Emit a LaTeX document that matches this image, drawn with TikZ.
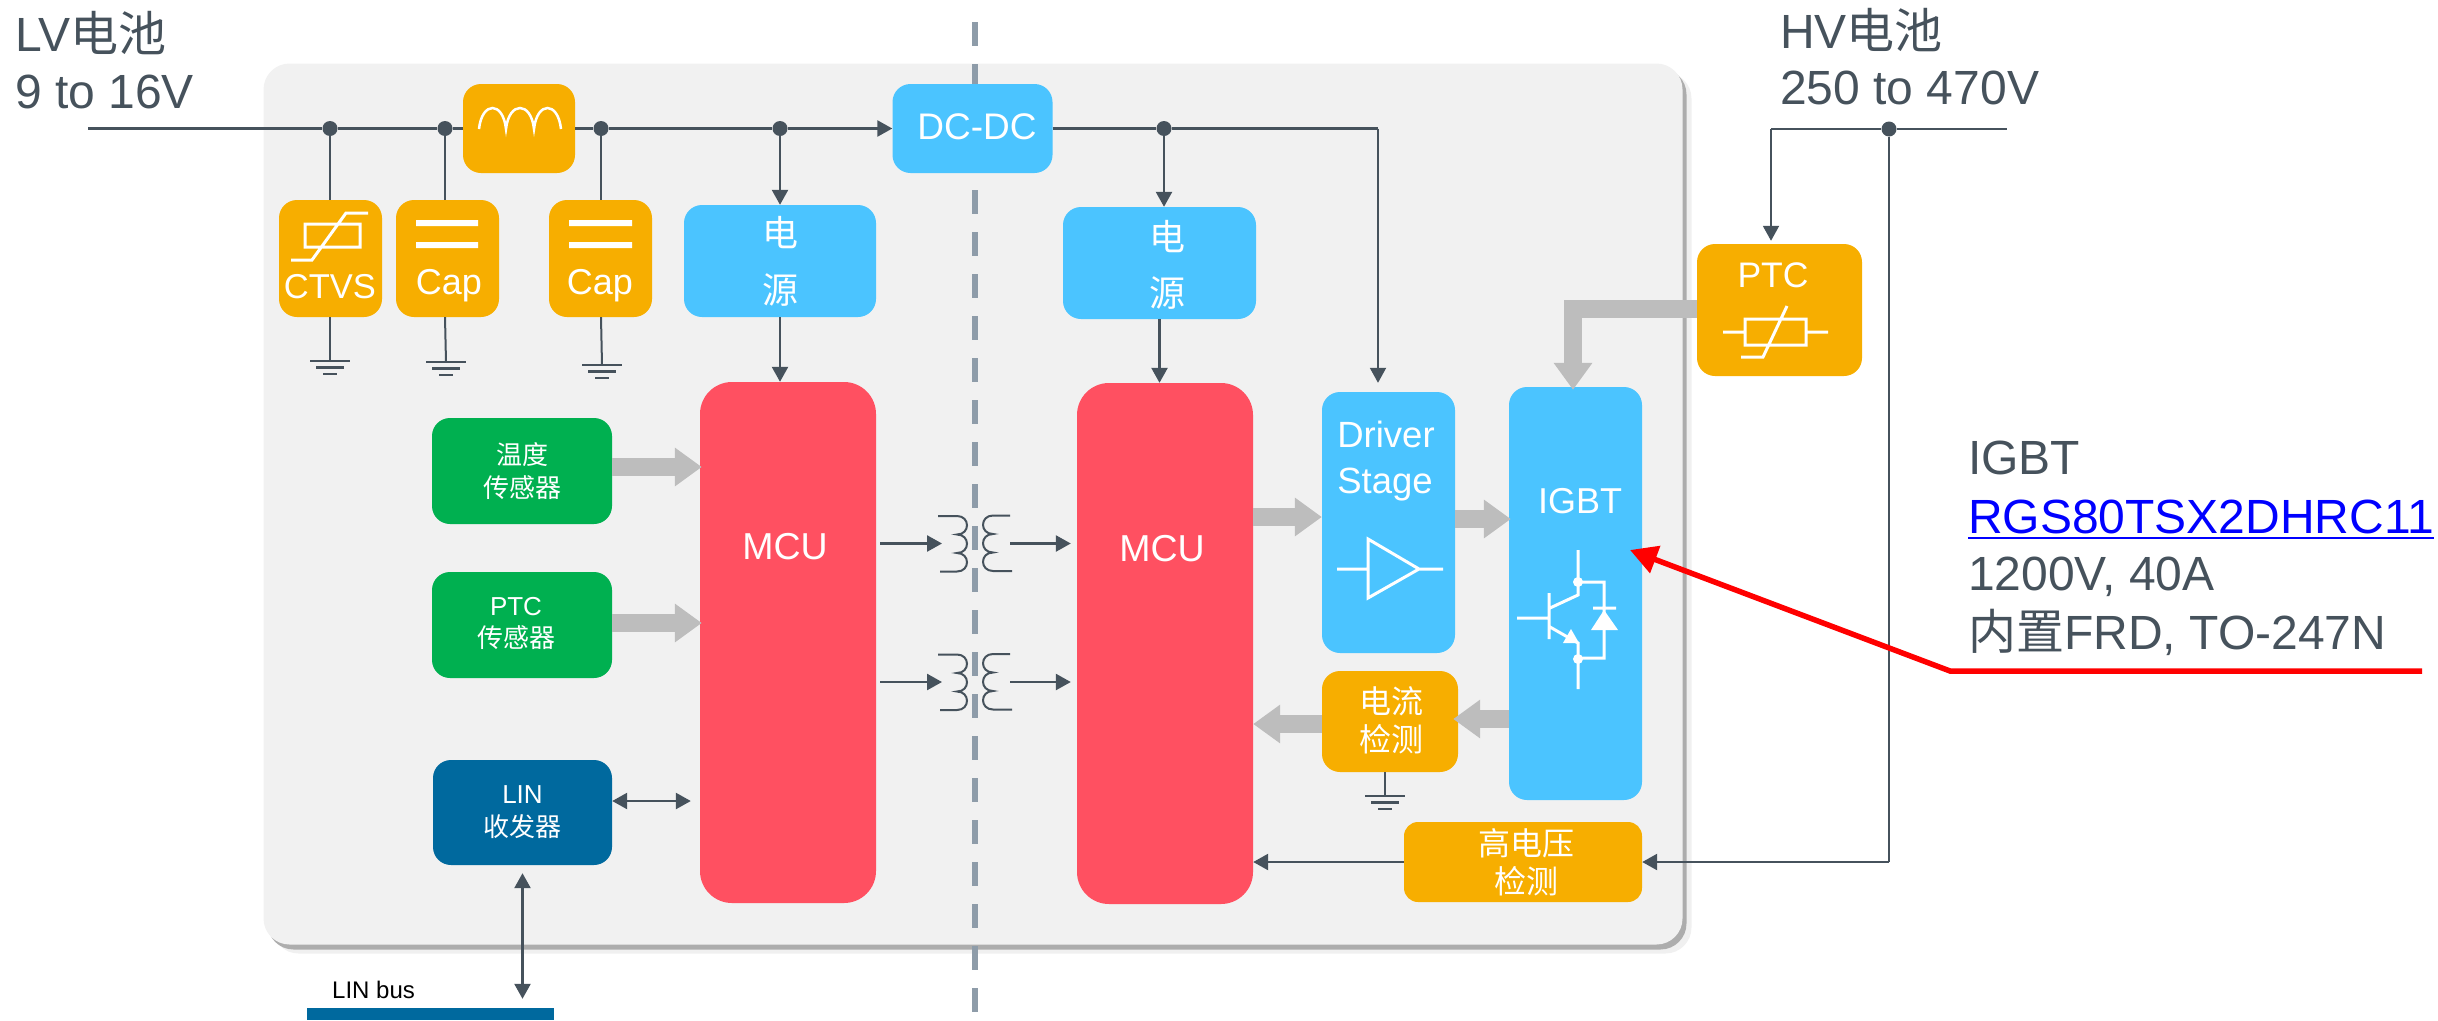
\documentclass[tikz,border=0pt]{standalone}
\usepackage{fontspec}
\setmainfont{Liberation Sans}
\newfontfamily\cjkfont{Noto Sans CJK SC}
\newcommand{\zh}[1]{{\cjkfont #1}}
\usetikzlibrary{arrows.meta,shadows}
\definecolor{wiregray}{HTML}{46525C}
\definecolor{panelgray}{HTML}{F1F1F1}
\definecolor{splitgray}{HTML}{8E9CA9}
\definecolor{flowgray}{HTML}{BDBDBD}
\definecolor{orangefill}{HTML}{F7AE00}
\definecolor{bluefill}{HTML}{4BC4FF}
\definecolor{redfill}{HTML}{FF5061}
\definecolor{greenfill}{HTML}{00B050}
\definecolor{navyfill}{HTML}{00699E}
\tikzset{
  block/.style n args={2}{rectangle,rounded corners=18pt,inner sep=0pt,minimum width=#1 pt,minimum height=#2 pt,
    text=white,align=center,font=\fontsize{36}{44}\selectfont},
  orangebox/.style 2 args={block={#1}{#2},fill=orangefill},
  bluebox/.style 2 args={block={#1}{#2},fill=bluefill},
  redbox/.style 2 args={block={#1}{#2},fill=redfill,rounded corners=32pt},
  greenbox/.style 2 args={block={#1}{#2},fill=greenfill,font=\fontsize{26}{33.5}\selectfont},
  navybox/.style 2 args={block={#1}{#2},fill=navyfill,font=\fontsize{26}{32}\selectfont},
  boxtext/.style={text=white,align=center,inner sep=0pt,font=\fontsize{36}{44}\selectfont},
  lefttext/.style={text=wiregray,anchor=base west,inner sep=0pt,font=\fontsize{48}{48}\selectfont},
  dotnode/.style={circle,fill=wiregray,inner sep=0pt,minimum size=15pt},
  wire/.style={draw=wiregray,line width=3pt},
  thinwire/.style={draw=wiregray,line width=2pt},
  sigarrow/.style={draw=wiregray,line width=2.5pt,-{Triangle[length=15pt,width=16pt]}},
  bothsig/.style={draw=wiregray,line width=2.5pt,{Triangle[length=15pt,width=16pt]}-{Triangle[length=15pt,width=16pt]}},
  flowarrow/.style={draw=flowgray,line width=18pt,-{Triangle[length=27pt,width=37pt]}},
  icon/.style={draw=white,line width=3pt},
  gnd/.pic={
    \coordinate (-top) at (0,0);
    \draw[draw=wiregray,line width=2.5pt] (-20,0) -- (20,0) (-14,6.5) -- (14,6.5) (-7,13) -- (7,13);
  },
  coilpair/.pic={
    \coordinate (-in) at (-29,0);
    \coordinate (-out) at (39,0);
    \draw[thinwire] (-33,-27.5) -- (-14,-27.5)
      \foreach \k in {0,1,2} { .. controls (-0.7,-27.5+18.5*\k) and (-0.7,-9+18.5*\k) .. (-14,-9+18.5*\k) }
      -- (-31,28);
    \draw[thinwire] (39,-28) -- (22,-28)
      \foreach \k in {0,1,2} { .. controls (8.7,-28+18.5*\k) and (8.7,-9.5+18.5*\k) .. (22,-9.5+18.5*\k) }
      -- (41,27.5);
  }
}
\begin{document}
\begin{tikzpicture}[x=1pt,y=-1pt]
  \useasboundingbox (0,0) rectangle (2438,1020);
  \node[rectangle,rounded corners=26pt,fill=panelgray,inner sep=0pt,minimum width=1419pt,minimum height=881pt,
    general shadow={shadow xshift=9pt,shadow yshift=-9pt,fill=black!6},
    general shadow={shadow xshift=4pt,shadow yshift=-5pt,fill=black!32}] (panel) at (973,504) {};
  \coordinate (splittop) at (975,22);
  \coordinate (splitend) at (975,1020);
  \draw[draw=splitgray,line width=6pt,dash pattern=on 24pt off 18pt] (splittop) to (splitend);

  \node[orangebox={112}{89}] (ind) at (519,128.5) {};
  \node[orangebox={103}{117}] (ctvs) at (330.5,258.5) {};
  \node[orangebox={103}{117}] (capA) at (447.5,258.5) {};
  \node[orangebox={103}{117}] (capB) at (600.5,258.5) {};
  \node[bluebox={192}{112}] (pwrL) at (780,261) {};
  \node[bluebox={160}{89}] (dcdc) at (972.5,128.5) {};
  \node[bluebox={193}{112}] (pwrR) at (1159.5,263) {};
  \node[redbox={176}{521}] (mcuL) at (788,642.5) {};
  \node[redbox={176}{521}] (mcuR) at (1165,643.5) {};
  \node[greenbox={180}{106}] (tempsens) at (522,471) {\zh{温度}\\\zh{传感器}};
  \node[greenbox={180}{106}] (ptcsens) at (522,625) {};
  \node[navybox={179}{105}] (lin) at (522.5,812.5) {LIN\\[1pt]\zh{收发器}};
  \node[bluebox={133}{261}] (driver) at (1388.5,522.5) {};
  \node[bluebox={133}{413}] (igbt) at (1575.5,593.5) {};
  \node[orangebox={136}{101}] (isense) at (1390,721.5) {};
  \node[orangebox={238}{80},font=\fontsize{32}{38}\selectfont,rounded corners=14pt] (hvsense) at (1523,862) {\hspace*{6pt}\zh{高电压}\\\hspace*{6pt}\zh{检测}};
  \node[orangebox={165}{132}] (ptcbox) at (1779.5,310) {};

  \node[boxtext] (ctvstext) at (330,287) {\fontsize{34.5}{40}\selectfont CTVS};
  \node[boxtext] (captextA) at (449,286) {Cap};
  \node[boxtext] (captextB) at (600,286) {Cap};
  \node[boxtext,font=\fontsize{37}{44}\selectfont] (dcdctext) at (977,127) {DC-DC};
  \node[boxtext,font=\fontsize{36}{57}\selectfont] (pwrtextL) at (780,261) {\zh{电}\\\zh{源}};
  \node[boxtext,font=\fontsize{36}{56}\selectfont] (pwrtextR) at (1167,265) {\zh{电}\\\zh{源}};
  \node[boxtext,font=\fontsize{37.5}{44}\selectfont] (mcutextL) at (785,547) {MCU};
  \node[boxtext,font=\fontsize{37.5}{44}\selectfont] (mcutextR) at (1162,549) {MCU};
  \node[boxtext,font=\fontsize{26}{32}\selectfont] (ptcsenstext) at (516,623) {PTC\\\zh{传感器}};
  \node[boxtext,align=left,font=\fontsize{36.5}{46}\selectfont] (drivertext) at (1386,461) {Driver\\Stage};
  \node[boxtext] (igbttext) at (1580,501) {IGBT};
  \node[boxtext,font=\fontsize{32}{38}\selectfont] (isensetext) at (1391,720) {\zh{电流}\\\zh{检测}};
  \node[boxtext,font=\fontsize{35.5}{44}\selectfont] (ptctext) at (1773,275) {PTC};

  \node[lefttext] (lvname) at (15,51) {LV\zh{电池}};
  \node[lefttext] (lvrange) at (15,108) {9 to 16V};
  \node[lefttext] (hvname) at (1780,48) {HV\zh{电池}};
  \node[lefttext] (hvrange) at (1780,104) {250 to 470V};
  \node[lefttext] (igbtname) at (1968,474) {IGBT};
  \node[lefttext,text=blue] (igbtpart) at (1968,533) {RGS80TSX2DHRC11};
  \node[lefttext] (igbtspec) at (1968,590) {1200V, 40A};
  \node[lefttext] (igbtpack) at (1968,649) {\zh{内置}FRD, TO-247N};
  \node[text=black,anchor=base west,inner sep=0pt,font=\fontsize{24}{24}\selectfont] (linbustext) at (332,998) {LIN bus};
  \node[rectangle,fill=navyfill,inner sep=0pt,minimum width=247pt,minimum height=12pt] (linbus) at (430.5,1014) {};

  \draw[draw=blue,line width=2.5pt] ([yshift=-5pt]igbtpart.base west) to ([yshift=-5pt]igbtpart.base east);

  \node[dotnode] (jA) at (330,128.5) {};
  \node[dotnode] (jB) at (445,128.5) {};
  \node[dotnode] (jC) at (601,128.5) {};
  \node[dotnode] (jD) at (780,128.5) {};
  \node[dotnode] (jE) at (1164,128.5) {};
  \node[dotnode] (jF) at (1889,129) {};
  \coordinate (lvstart) at (88,128.5);
  \coordinate (dccorner) at (1378,128.5);
  \coordinate (hvend) at (2007,129);
  \coordinate (hvcorner) at (1771,129);
  \coordinate (hvdown) at (1889,862);
  \coordinate (ptcdrop) at (1573,309);

  \pic (gndA) at (330,361) {gnd};
  \pic (gndB) at (446,362) {gnd};
  \pic (gndC) at (602,365) {gnd};
  \pic (gndD) at (1385,796) {gnd};
  \pic (coilA) at (971,543.5) {coilpair};
  \pic (coilB) at (971,682) {coilpair};

  \begin{scope}[wire]
    \draw (lvstart) to (jA);
    \draw (jA) to (jB);
    \draw (jB) to (ind);
    \draw (ind) to (jC);
    \draw (jC) to (jD);
    \draw (dcdc) to (jE);
    \draw (jE) to (dccorner);
  \end{scope}
  \begin{scope}[thinwire]
    \draw (jA) to (jA |- ctvs.north);
    \draw (jB) to (jB |- capA.north);
    \draw (jC) to (jC |- capB.north);
    \draw (jA |- ctvs.south) to (gndA-top);
    \draw (jB |- capA.south) to (gndB-top);
    \draw (jC |- capB.south) to (gndC-top);
    \draw (gndD-top |- isense.south) to (gndD-top);
    \draw (hvcorner) to (jF);
    \draw (jF) to (hvend);
    \draw (jF) to (hvdown);
  \end{scope}
  \begin{scope}[sigarrow]
    \draw (jD) to (dcdc);
    \draw (jD) to (pwrL.north);
    \draw (pwrL.south) to (jD |- mcuL.north);
    \draw (jE) to (jE |- pwrR.north);
    \draw (pwrR.south) to (pwrR.south |- mcuR.north);
    \draw[line width=2pt] (dccorner) to ([yshift=9pt]dccorner |- driver.north);
    \draw[line width=2pt] (hvcorner) to ([yshift=3pt]hvcorner |- ptcbox.north);
    \draw (hvdown) to (hvsense.east);
    \draw (hvsense.west) to (mcuR.east |- hvsense.west);
    \draw ([xshift=4pt]mcuL.east |- coilA-in) to (coilA-in);
    \draw (coilA-out) to ([xshift=-6pt]mcuR.west |- coilA-out);
    \draw ([xshift=4pt]mcuL.east |- coilB-in) to (coilB-in);
    \draw (coilB-out) to ([xshift=-6pt]mcuR.west |- coilB-out);
  \end{scope}
  \draw[bothsig] (lin.east |- 0,801) to ([xshift=-9pt]mcuL.west |- 0,801);
  \draw[bothsig] ([yshift=-8pt]lin.south) to ([yshift=9pt]lin.south |- linbus.north);

  \begin{scope}[flowarrow]
    \draw ([yshift=4pt]tempsens.east) to ([shift={(2pt,4pt)}]mcuL.west |- tempsens.east);
    \draw ([yshift=2pt]ptcsens.east) to ([shift={(2pt,2pt)}]mcuL.west |- ptcsens.east);
    \draw (mcuR.east |- 0,517) to (driver.west |- 0,517);
    \draw (driver.east |- 0,519) to ([xshift=2pt]igbt.west |- 0,519);
    \draw (igbt.west |- 0,719) to ([xshift=-5pt]isense.east |- 0,719);
    \draw (isense.west |- 0,724) to (mcuR.east |- 0,724);
    \draw[line join=miter] (ptcbox.west |- ptcdrop) to (ptcdrop) to ([yshift=-3pt]ptcdrop |- igbt.north);
  \end{scope}

  \coordinate (redend) at (2422,671);
  \coordinate (redbend) at (1950,671);
  \coordinate (redtip) at (1630,550);
  \draw[draw=red,line width=5.5pt,line join=miter,-{Triangle[length=27pt,width=28pt]}] (redend) -- (redbend) -- (redtip);

  \draw[draw=white,line width=2.5pt] (479,129) .. controls (482,101) and (503,101) .. (506,129)
    .. controls (509,101) and (531,101) .. (534,129) .. controls (537,101) and (558,101) .. (561,129);
  \draw[icon] (305,224) rectangle (360,247) (291,260) -- (312,260) -- (346,213) -- (368,213);
  \fill[white] (416,220) rectangle (478,226) (416,242) rectangle (478,248);
  \fill[white] (569,220) rectangle (632,226) (569,242) rectangle (632,248);
  \draw[icon] (1745,319) rectangle (1806,345) (1723,332) -- (1745,332) (1806,332) -- (1828,332)
    (1741,357) -- (1763,357) -- (1787,306);
  \draw[icon] (1368,539) -- (1419,569) -- (1368,598) -- cycle (1337,569) -- (1368,569) (1419,569) -- (1443,569);
  \draw[icon] (1578,550) -- (1578,595) -- (1550,608) (1549,593) -- (1549,639) (1517,618) -- (1549,618)
    (1550,627) -- (1578,643) -- (1578,689) (1578,582) -- (1604,582) -- (1604,658) -- (1578,658) (1593,608) -- (1616,608);
  \fill[white] (1578,582) circle (5) (1578,659) circle (5);
  \fill[white] (1579,643) -- (1563,643) -- (1571,629) -- cycle (1604,610) -- (1618,630) -- (1591,630) -- cycle;
\end{tikzpicture}
\end{document}
